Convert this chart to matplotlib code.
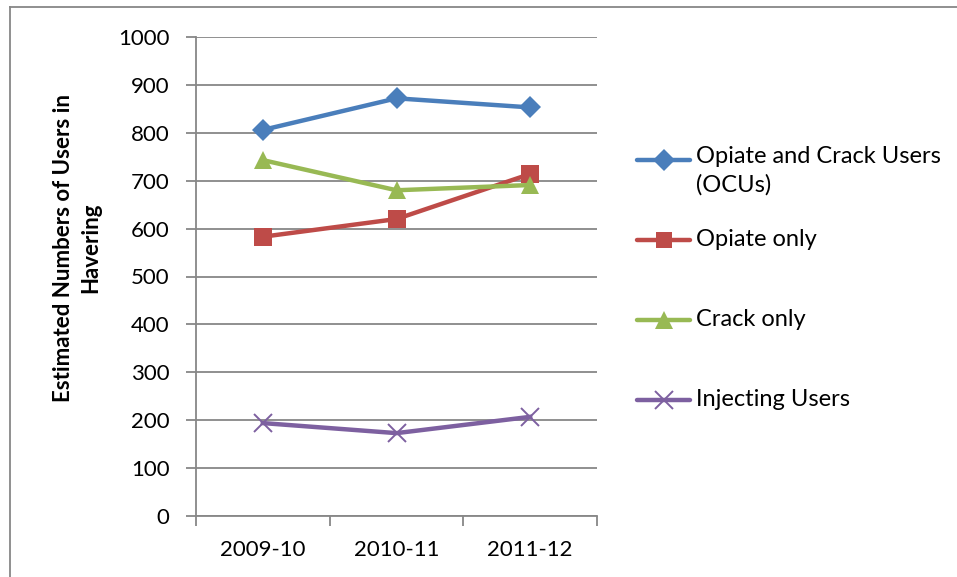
import matplotlib
matplotlib.use("Agg")
import matplotlib.pyplot as plt
from matplotlib.lines import Line2D
import numpy as np

categories = ["2009-10", "2010-11", "2011-12"]
ocu = [806, 872, 853]
opiate_only = [583, 620, 714]
crack_only = [743, 680, 691]
injecting = [194, 173, 207]
series_labels = ["Opiate and Crack Users\n(OCUs)", "Opiate only", "Crack only", "Injecting Users"]
y_ticks = [0, 100, 200, 300, 400, 500, 600, 700, 800, 900, 1000]

plt.rcParams['font.family'] = ['Lato', 'DejaVu Sans']

W, H = 957, 577
fig = plt.figure(figsize=(W / 100, H / 100), dpi=100)
ax = fig.add_axes([196 / W, 1 - 516 / H, (597 - 196) / W, (516 - 37) / H])

colors = ["#4A7EBB", "#BE4B48", "#98B954", "#7D60A0"]
markers = ["D", "s", "^", "x"]
msizes = [11.5, 12.5, 13, 13]
series = [ocu, opiate_only, crack_only, injecting]

x = np.arange(len(categories))
for vals, c, m, ms in zip(series, colors, markers, msizes):
    ax.plot(x, vals, color=c, lw=3.2, marker=m, markersize=ms,
            markeredgewidth=1.4 if m == "x" else 0, markerfacecolor=c,
            markeredgecolor=c, solid_joinstyle="round", zorder=3, clip_on=False)

ax.set_xlim(-0.5, len(categories) - 0.5)
ax.set_ylim(0, 1000)
ax.set_yticks(y_ticks)
ax.set_yticklabels([str(v) for v in y_ticks], fontsize=16)
ax.yaxis.grid(True, color="#878787", lw=1.3)
ax.set_axisbelow(True)

ax.set_xticks(x)
ax.set_xticklabels(categories, fontsize=16)
ax.set_xticks(np.arange(len(categories) + 1) - 0.5, minor=True)
ax.tick_params(axis="x", which="major", length=0, pad=17)
ax.tick_params(axis="x", which="minor", length=7, width=1.3, color="#878787", direction="out")
ax.tick_params(axis="y", length=7, width=1.3, color="#878787", direction="out", pad=12)

for s in ["top", "right"]:
    ax.spines[s].set_visible(False)
for s in ["left", "bottom"]:
    ax.spines[s].set_color("#878787")
    ax.spines[s].set_linewidth(1.3)

fig.text(77 / W, 1 - 248 / H, "Estimated Numbers of Users in\nHavering", rotation=90,
         ha="center", va="center", fontsize=16, fontweight="bold", linespacing=1.4)

# legend (manual)
leg_y = [160, 240, 320, 400]
for lab, c, m, ms, yy in zip(series_labels, colors, markers, msizes, leg_y):
    fy = 1 - yy / H
    fig.add_artist(Line2D([637 / W, 690 / W], [fy, fy], color=c, lw=3.2,
                          transform=fig.transFigure, solid_capstyle="round"))
    fig.add_artist(Line2D([664 / W], [fy], color=c, marker=m, markersize=ms * 0.95,
                          markeredgewidth=1.4 if m == "x" else 0, markerfacecolor=c,
                          markeredgecolor=c, transform=fig.transFigure))
    if "\n" in lab:
        fig.text(696 / W, 1 - (yy - 14) / H, lab, ha="left", va="top", fontsize=17,
                 linespacing=1.4)
    else:
        fig.text(696 / W, fy, lab, ha="left", va="center", fontsize=17)

# chart border (top and left visible)
fig.add_artist(Line2D([10 / W, 1.0], [1 - 7 / H, 1 - 7 / H], color="#878787", lw=1.3,
                      transform=fig.transFigure))
fig.add_artist(Line2D([10 / W, 10 / W], [1 - 7 / H, 0], color="#878787", lw=1.3,
                      transform=fig.transFigure))

fig.savefig("out.png", dpi=100)
